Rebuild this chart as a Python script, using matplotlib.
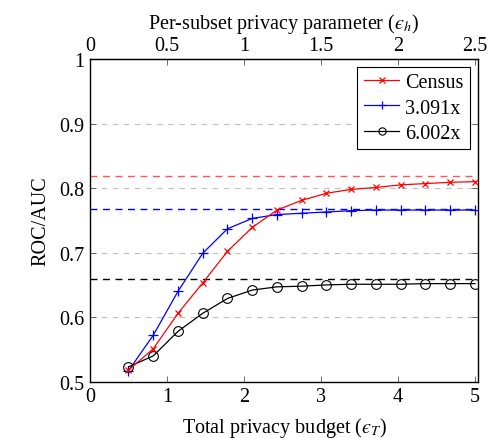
import numpy as np
import matplotlib
matplotlib.use("Agg")
import matplotlib.pyplot as plt

plt.rcParams['font.family'] = ['Liberation Serif', 'DejaVu Serif']
plt.rcParams['mathtext.fontset'] = 'stix'
plt.rcParams['font.size'] = 14

# Data
eps_total = np.linspace(0.5, 5.0, 15)
census = [0.518, 0.551, 0.606, 0.653, 0.702, 0.739, 0.766, 0.781, 0.792,
          0.798, 0.801, 0.805, 0.807, 0.809, 0.810]
x3091 = [0.517, 0.572, 0.640, 0.699, 0.737, 0.753, 0.759, 0.761, 0.763,
         0.765, 0.766, 0.766, 0.766, 0.766, 0.766]
x6002 = [0.523, 0.540, 0.578, 0.606, 0.629, 0.642, 0.647, 0.648, 0.650,
         0.651, 0.651, 0.651, 0.652, 0.652, 0.652]
ref_levels = [0.818, 0.767, 0.659]
ref_colors = ['#ff5555', 'blue', 'black']

fig = plt.figure(figsize=(4.87, 4.39), dpi=100)
ax = fig.add_axes([0.1848, 0.1282, 0.7967, 0.7351])

for yv in [0.6, 0.7, 0.8, 0.9]:
    ax.axhline(yv, color='#bfbfbf', lw=0.8, ls=(0, (5, 5)), zorder=0)
for yv, c in zip(ref_levels, ref_colors):
    ax.axhline(yv, color=c, lw=1.0, ls=(0, (5, 4)), zorder=1)

ax.plot(eps_total, census, color='red', marker='x', ms=5, mew=0.9, lw=0.9,
        label='Census', zorder=3)
ax.plot(eps_total, x3091, color='blue', marker='+', ms=7, mew=0.9, lw=0.9,
        label='3.091x', zorder=2)
ax.plot(eps_total, x6002, color='black', marker='o', ms=7, mfc='none', mew=0.8,
        lw=0.9, label='6.002x', zorder=2)

ax.set_xlim(0, 5.04)
ax.set_ylim(0.5, 1.0)
ax.set_xticks([0, 1, 2, 3, 4, 5])
ax.set_xticklabels(['0', '1', '2', '3', '4', '5'])
ax.set_yticks([0.5, 0.6, 0.7, 0.8, 0.9, 1.0])
ax.set_yticklabels(['0.5', '0.6', '0.7', '0.8', '0.9', '1'])
ax.tick_params(direction='in', length=4, width=0.6, color='#555555',
               right=True, labelsize=14.5, pad=4)
ax.set_xlabel('Total privacy budget ($\u03f5_T$)', fontsize=14.5, labelpad=6)
ax.set_ylabel('ROC/AUC', fontsize=14.5, labelpad=6)

top = ax.secondary_xaxis('top', functions=(lambda x: x / 2, lambda x: x * 2))
top.set_xticks([0, 0.5, 1, 1.5, 2, 2.5])
top.set_xticklabels(['0', '0.5', '1', '1.5', '2', '2.5'])
top.tick_params(direction='in', length=4, width=0.6, color='#555555',
                labelsize=14.5, pad=3)
top.set_xlabel('Per-subset privacy parameter ($\u03f5_h$)', fontsize=14.5,
               labelpad=6)

for sp in ax.spines.values():
    sp.set_linewidth(1.0)

leg = ax.legend(loc='upper right', fontsize=14.5, frameon=True, fancybox=False,
                edgecolor='black', framealpha=1, handlelength=1.75,
                borderpad=0.33, labelspacing=0.3, handletextpad=0.3,
                borderaxespad=0.38, markerscale=0.75)
leg.get_frame().set_linewidth(0.8)

fig.savefig('out.png', dpi=100)
